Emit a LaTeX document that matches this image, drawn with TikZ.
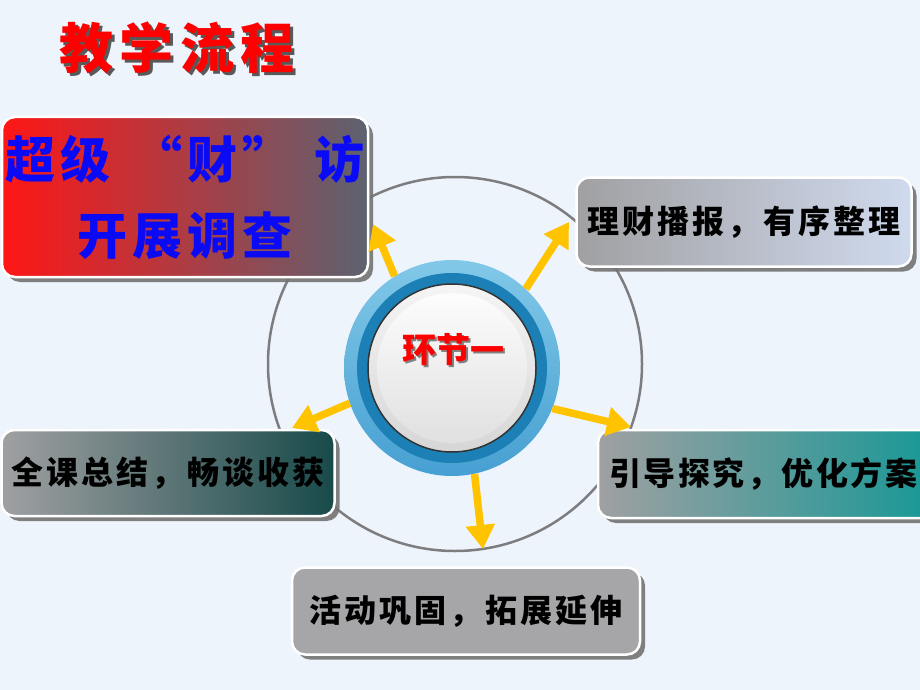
\documentclass[tikz,border=0pt]{standalone}
\usepackage{fontspec}
\newfontfamily\cjk{Noto Sans CJK SC}
\newfontfamily\cjkwide{Noto Sans CJK SC}[LetterSpace=12]
\newfontfamily\cjkbox{Noto Sans CJK SC}[LetterSpace=10]
\newfontfamily\cjkboxn{Noto Sans CJK SC}[LetterSpace=8]
\usetikzlibrary{arrows.meta,shadows}
\definecolor{bg}{RGB}{238,244,252}
\definecolor{ringgray}{RGB}{125,125,128}
\definecolor{arrowyellow}{RGB}{255,195,0}
\definecolor{boxred}{RGB}{255,22,22}
\definecolor{boxslate}{RGB}{92,98,112}
\definecolor{boxgray}{RGB}{160,160,162}
\definecolor{boxlight}{RGB}{208,218,238}
\definecolor{boxteal}{RGB}{22,152,150}
\definecolor{boxdark}{RGB}{24,74,74}
\definecolor{boxflat}{RGB}{166,166,168}
\definecolor{btnlight}{RGB}{130,200,232}
\definecolor{btnmid}{RGB}{70,160,210}
\definecolor{btndark}{RGB}{28,128,182}
\definecolor{titleblue}{RGB}{10,10,245}
\begin{document}
\begin{tikzpicture}[x=1pt,y=-1pt,
  panel/.style={rounded corners=13pt, draw=white, line width=2.5pt,
    minimum width=#1, inner sep=0pt,
    drop shadow={shadow xshift=5pt, shadow yshift=-5pt, fill=black!55, opacity=0.9}},
  paneltext/.style={font=\cjkbox\bfseries\fontsize{32}{32}\selectfont, text=black},
  flow/.style={draw=arrowyellow, line width=7.5pt,
    -{Triangle[width=28pt,length=24pt]}}
]
\fill[bg] (0,0) rectangle (920,690);
\useasboundingbox (0,0) rectangle (920,690);

% title
\node[font=\cjkwide\bfseries\fontsize{54}{54}\selectfont, text=black!65] at (180,51) {教学流程};
\node (title) [font=\cjkwide\bfseries\fontsize{54}{54}\selectfont, text=red] at (177,48) {教学流程};

% big ring
\node (ring) [circle, draw=ringgray, line width=2.5pt, minimum size=374pt, inner sep=0pt] at (455,364) {};

% panels
\node (p1) [panel=366pt, minimum height=160pt, left color=boxred, right color=boxslate,
  align=center, text=titleblue, font=\cjkbox\bfseries\fontsize{50}{76}\selectfont] at (185,197)
  {超级\hspace{22pt}“财”\hspace{22pt}访\\开展调查};
\node (p2) [panel=335pt, minimum height=89pt, left color=boxgray, right color=boxlight, paneltext] at (744,222) {理财播报，有序整理};
\node (p3) [panel=340pt, minimum height=88pt, left color=boxgray, right color=boxteal, paneltext,
  font=\cjkboxn\bfseries\fontsize{32}{32}\selectfont, text width=318pt, align=left] at (768,474) {引导探究，优化方案};
\node (p4) [panel=333pt, minimum height=86pt, left color=boxgray, right color=boxdark, paneltext] at (168,473) {全课总结，畅谈收获};
\node (p5) [panel=348pt, minimum height=87pt, fill=boxflat, paneltext] at (466,611) {活动巩固，拓展延伸};

% center button
\node (btn) [circle, minimum size=216pt, inner sep=0pt, top color=btnlight, bottom color=btnmid] at (452,368) {};
\node (btnband) [circle, minimum size=190pt, inner sep=0pt, fill=btndark] at (btn.center) {};
\node (face) [circle, minimum size=168pt, inner sep=0pt, draw=black!80, line width=1.5pt,
  top color=white!96!black, bottom color=white!84!black] at (btn.center) {};
\node (glow) [circle, minimum size=150pt, inner sep=0pt, top color=white!99!black, bottom color=white!88!black] at (btn.center) {};
\node[font=\cjk\bfseries\fontsize{34}{34}\selectfont, text=black!50] at (455,352) {环节一};
\node (label) [font=\cjk\bfseries\fontsize{34}{34}\selectfont, text=red] at (453,350) {环节一};

% arrow tips
\coordinate (t1) at (373,224);
\coordinate (t2) at (569,222);
\coordinate (t3) at (631,427);
\coordinate (t4) at (483,549);
\coordinate (t5) at (292,428);

\draw[flow] (btn.122) -- (t1);
\draw[flow] (btn.47) -- (t2);
\draw[flow] (btn.-22) -- (t3);
\draw[flow] (btn.-78) -- (t4);
\draw[flow] (btn.-161) -- (t5);
\end{tikzpicture}
\end{document}
